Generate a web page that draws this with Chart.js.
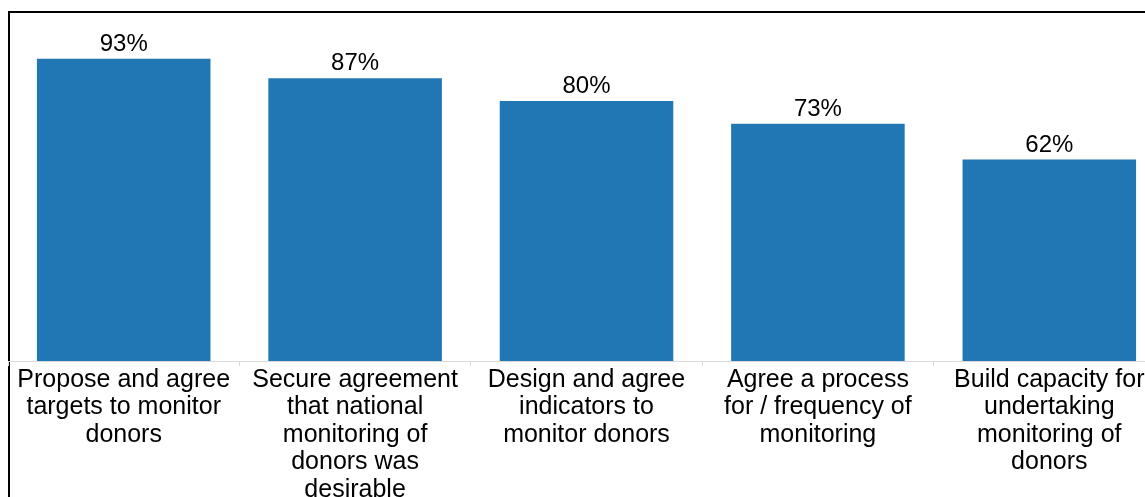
<!DOCTYPE html>
<html>
  <head>
    <meta charset="UTF-8" />
    <title>Monitoring donors</title>
    <script src="https://cdn.jsdelivr.net/npm/chart.js"></script>
    <style>
      body {
        margin: 0;
        background: #fff;
        overflow: hidden;
        font-family: "Liberation Sans", Arial, sans-serif;
      }
      .frame {
        position: absolute;
        left: 8px;
        top: 11px;
        width: 1200px;
        height: 500px;
        border-left: 2px solid #000;
        border-top: 2px solid #000;
      }
      .box {
        position: absolute;
        left: 8px;
        top: 13px;
        width: 1157px;
        height: 484px;
      }
    </style>
  </head>
  <body>
    <div class="frame"></div>
    <div class="box"><canvas id="chart"></canvas></div>

    <script>
      const categories = [
        ["Propose and agree", "targets to monitor", "donors"],
        ["Secure agreement", "that national", "monitoring of", "donors was", "desirable"],
        ["Design and agree", "indicators to", "monitor donors"],
        ["Agree a process", "for / frequency of", "monitoring"],
        ["Build capacity for", "undertaking", "monitoring of", "donors"],
      ];
      const values = [93, 87, 80, 73, 62];

      // percent labels above each bar
      const barLabels = {
        id: "barLabels",
        afterDatasetsDraw(chart) {
          const ctx = chart.ctx;
          const meta = chart.getDatasetMeta(0);
          ctx.save();
          ctx.font = '24px "Liberation Sans", Arial, sans-serif';
          ctx.fillStyle = "#000";
          ctx.textAlign = "center";
          ctx.textBaseline = "alphabetic";
          meta.data.forEach((bar, i) => {
            ctx.fillText(values[i] + "%", bar.x, bar.y - 8);
          });
          ctx.restore();
        },
      };

      new Chart(document.getElementById("chart"), {
        type: "bar",
        data: {
          labels: categories,
          datasets: [
            {
              data: values,
              backgroundColor: "#2077b4",
              barPercentage: 0.75,
              categoryPercentage: 1,
            },
          ],
        },
        options: {
          responsive: true,
          maintainAspectRatio: false,
          animation: false,
          layout: { padding: { top: 23, left: 0, right: 0, bottom: 0 } },
          plugins: {
            legend: { display: false },
            tooltip: { enabled: false },
          },
          scales: {
            y: { display: false, min: 0, max: 100 },
            x: {
              afterFit(scale) {
                scale.height = 136;
              },
              border: { color: "#d9d9d9", width: 1 },
              grid: {
                offset: true,
                drawOnChartArea: false,
                drawTicks: true,
                tickLength: 5,
                color: "#d9d9d9",
              },
              ticks: {
                color: "#000",
                maxRotation: 0,
                autoSkip: false,
                padding: 0,
                font: { family: '"Liberation Sans", Arial, sans-serif', size: 25, lineHeight: 1.1 },
              },
            },
          },
        },
        plugins: [barLabels],
      });
    </script>
  </body>
</html>
